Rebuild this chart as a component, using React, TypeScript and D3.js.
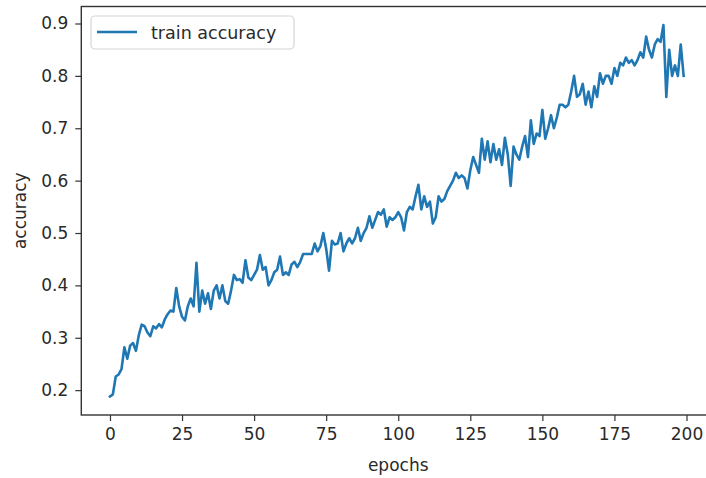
import { useEffect, useRef } from 'react'
import * as d3 from 'd3'

// train accuracy per epoch
const accuracy: number[] = [
  0.188, 0.192, 0.226, 0.23, 0.24, 0.282, 0.26, 0.285, 0.29, 0.275,
  0.305, 0.325, 0.322, 0.31, 0.303, 0.322, 0.318, 0.326, 0.32, 0.335,
  0.345, 0.352, 0.35, 0.395, 0.36, 0.34, 0.333, 0.36, 0.375, 0.36,
  0.443, 0.35, 0.39, 0.365, 0.385, 0.355, 0.39, 0.4, 0.375, 0.4,
  0.37, 0.365, 0.39, 0.42, 0.41, 0.412, 0.405, 0.448, 0.415, 0.41,
  0.42, 0.43, 0.458, 0.43, 0.435, 0.4, 0.41, 0.425, 0.43, 0.455,
  0.42, 0.425, 0.42, 0.44, 0.445, 0.435, 0.445, 0.46, 0.46, 0.46,
  0.46, 0.48, 0.465, 0.475, 0.5, 0.47, 0.428, 0.485, 0.478, 0.48,
  0.5, 0.465, 0.48, 0.49, 0.48, 0.49, 0.51, 0.485, 0.5, 0.51,
  0.532, 0.51, 0.525, 0.54, 0.535, 0.545, 0.512, 0.53, 0.525, 0.53,
  0.54, 0.53, 0.505, 0.54, 0.55, 0.545, 0.57, 0.592, 0.545, 0.57,
  0.55, 0.56, 0.518, 0.53, 0.57, 0.56, 0.565, 0.58, 0.59, 0.6,
  0.615, 0.605, 0.61, 0.605, 0.585, 0.62, 0.645, 0.63, 0.615, 0.68,
  0.64, 0.675, 0.635, 0.67, 0.64, 0.66, 0.63, 0.682, 0.65, 0.59,
  0.665, 0.65, 0.64, 0.665, 0.685, 0.645, 0.715, 0.67, 0.69, 0.685,
  0.735, 0.68, 0.7, 0.725, 0.7, 0.72, 0.745, 0.745, 0.74, 0.745,
  0.77, 0.8, 0.76, 0.765, 0.785, 0.745, 0.77, 0.74, 0.78, 0.76,
  0.805, 0.785, 0.8, 0.8, 0.785, 0.815, 0.8, 0.825, 0.82, 0.835,
  0.825, 0.83, 0.82, 0.83, 0.845, 0.835, 0.875, 0.85, 0.835, 0.86,
  0.87, 0.865, 0.897, 0.76, 0.85, 0.8, 0.82, 0.8, 0.86, 0.8,
]
const epochs: number[] = accuracy.map((_, i) => i)

const xTicks = [0, 25, 50, 75, 100, 125, 150, 175, 200]
const yTicks = [0.2, 0.3, 0.4, 0.5, 0.6, 0.7, 0.8, 0.9]
const seriesLabel = 'train accuracy'
const xLabel = 'epochs'
const yLabel = 'accuracy'

const W = 706
const H = 478
const FONT = 'DejaVu Sans, sans-serif'

const App = () => {
  const ref = useRef<SVGSVGElement>(null)

  useEffect(() => {
    const svg = d3.select(ref.current)
    svg.selectAll('*').remove()

    // plot area (right spine falls just outside the picture)
    const left = 81.3
    const right = 712.3
    const top = 6.5
    const bottom = 415

    // matplotlib style 5% margins
    const [x0, x1] = d3.extent(epochs) as [number, number]
    const [y0, y1] = d3.extent(accuracy) as [number, number]
    const mx = (x1 - x0) * 0.05
    const my = (y1 - y0) * 0.05

    const x = d3.scaleLinear().domain([x0 - mx, x1 + mx]).range([left, right])
    const y = d3.scaleLinear().domain([y0 - my, y1 + my]).range([bottom, top])

    svg.append('rect').attr('width', W).attr('height', H).attr('fill', '#fff')

    svg
      .append('clipPath')
      .attr('id', 'plot-clip')
      .append('rect')
      .attr('x', left)
      .attr('y', top)
      .attr('width', right - left)
      .attr('height', bottom - top)

    const line = d3
      .line<number>()
      .x((_, i) => x(epochs[i]))
      .y((d) => y(d))

    svg
      .append('path')
      .datum(accuracy)
      .attr('clip-path', 'url(#plot-clip)')
      .attr('fill', 'none')
      .attr('stroke', '#1f77b4')
      .attr('stroke-width', 2.6)
      .attr('stroke-linejoin', 'round')
      .attr('stroke-linecap', 'square')
      .attr('d', line)

    // axes
    const xAxis = d3
      .axisBottom(x)
      .tickValues(xTicks)
      .tickSize(6)
      .tickPadding(7)
      .tickFormat(d3.format('d'))
    const yAxis = d3
      .axisLeft(y)
      .tickValues(yTicks)
      .tickSize(6)
      .tickPadding(7)
      .tickFormat(d3.format('.1f'))

    const gx = svg.append('g').attr('transform', `translate(0,${bottom})`).call(xAxis)
    const gy = svg.append('g').attr('transform', `translate(${left},0)`).call(yAxis)

    for (const g of [gx, gy]) {
      g.select('.domain').remove()
      g.selectAll('.tick line').attr('stroke', '#333').attr('stroke-width', 1.2)
      g.selectAll('.tick text')
        .attr('fill', '#2a2a2a')
        .attr('font-family', FONT)
        .attr('font-size', 17)
    }

    // spines
    svg
      .append('rect')
      .attr('x', left)
      .attr('y', top)
      .attr('width', right - left)
      .attr('height', bottom - top)
      .attr('fill', 'none')
      .attr('stroke', '#333')
      .attr('stroke-width', 1.4)

    // axis labels
    svg
      .append('text')
      .attr('x', x(100))
      .attr('y', 471)
      .attr('text-anchor', 'middle')
      .attr('font-family', FONT)
      .attr('font-size', 17)
      .attr('fill', '#2a2a2a')
      .text(xLabel)

    svg
      .append('text')
      .attr('transform', `translate(26,${(top + bottom) / 2}) rotate(-90)`)
      .attr('text-anchor', 'middle')
      .attr('font-family', FONT)
      .attr('font-size', 17)
      .attr('fill', '#2a2a2a')
      .text(yLabel)

    // legend
    const lg = svg.append('g')
    lg.append('rect')
      .attr('x', 91)
      .attr('y', 16)
      .attr('width', 203)
      .attr('height', 33)
      .attr('rx', 4)
      .attr('fill', '#fff')
      .attr('fill-opacity', 0.8)
      .attr('stroke', '#d6d6d6')
      .attr('stroke-width', 1.2)
    lg.append('line')
      .attr('x1', 97)
      .attr('x2', 137)
      .attr('y1', 32)
      .attr('y2', 32)
      .attr('stroke', '#1f77b4')
      .attr('stroke-width', 2.6)
    lg.append('text')
      .attr('x', 151)
      .attr('y', 38.5)
      .attr('font-family', FONT)
      .attr('font-size', 17.5)
      .attr('fill', '#2a2a2a')
      .text(seriesLabel)
  }, [])

  return (
    <svg
      ref={ref}
      width={W}
      height={H}
      style={{ position: 'absolute', left: 0, top: 0, display: 'block' }}
    />
  )
}

export default App
